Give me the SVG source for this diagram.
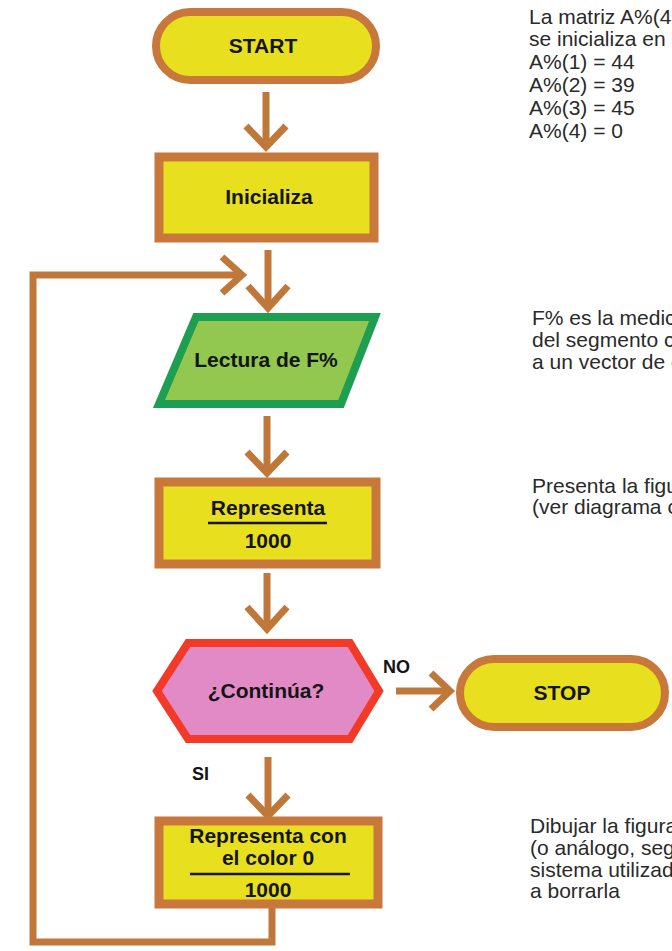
<svg xmlns="http://www.w3.org/2000/svg" width="672" height="951" viewBox="0 0 672 951">
<defs>
<style>
.bg{fill:#ffffff}
.term{fill:#e8e01e;stroke:#c8783a;stroke-width:8}
.proc{fill:#e8e01e;stroke:#c8783a;stroke-width:9}
.io{fill:#92c850;stroke:#1e9e50;stroke-width:8;stroke-linejoin:miter}
.dec{fill:#e28ac6;stroke:#f23a26;stroke-width:8;stroke-linejoin:miter}
.conn{fill:none;stroke:#c0783a;stroke-width:7;stroke-linejoin:miter;stroke-linecap:butt}
.lbl{font-family:"Liberation Sans",Arial,Helvetica,sans-serif;font-weight:bold;font-size:21px;fill:#141414;text-anchor:middle}
.tag{font-family:"Liberation Sans",Arial,Helvetica,sans-serif;font-weight:bold;font-size:18px;fill:#141414}
.note{font-family:"Liberation Sans",Arial,Helvetica,sans-serif;font-size:21px;fill:#2a2a2a}
.rule{stroke:#141414;stroke-width:2.5}
</style>
</defs>
<rect class="bg" x="0" y="0" width="672" height="951"/>

<g id="connectors">
  <path class="conn" d="M266,92 V146"/>
  <polyline class="conn" points="246,126 266,147 286,126"/>
  <path class="conn" d="M268,250 V306"/>
  <polyline class="conn" points="248,286 268,308 288,286"/>
  <path class="conn" d="M272,906 V942 H33 V275 H240"/>
  <polyline class="conn" points="222,257 242,275 222,293"/>
  <path class="conn" d="M267,416 V471"/>
  <polyline class="conn" points="247,452 267,473 287,452"/>
  <path class="conn" d="M267,573 V628"/>
  <polyline class="conn" points="247,607 267,629 287,607"/>
  <path class="conn" d="M396,691 H447"/>
  <polyline class="conn" points="431,673 450,691 431,709"/>
  <path class="conn" d="M268,757 V814"/>
  <polyline class="conn" points="248,795 268,816 288,795"/>
  <text class="tag" x="383" y="673">NO</text>
  <text class="tag" x="192" y="780">SI</text>
</g>

<g id="start">
  <rect class="term" x="156" y="12" width="220" height="68" rx="34"/>
  <text class="lbl" x="263" y="53">START</text>
</g>

<g id="inicializa">
  <rect class="proc" x="159" y="157" width="215" height="81"/>
  <text class="lbl" x="269" y="204">Inicializa</text>
</g>

<g id="lectura">
  <polygon class="io" points="196,317 375,317 341,404 159,404"/>
  <text class="lbl" x="266" y="367">Lectura de F%</text>
</g>

<g id="representa">
  <rect class="proc" x="159" y="482" width="217" height="82"/>
  <text class="lbl" x="268" y="515">Representa</text>
  <line class="rule" x1="208" y1="523" x2="327" y2="523"/>
  <text class="lbl" x="268" y="548">1000</text>
</g>

<g id="continua">
  <polygon class="dec" points="157,691 188,643 350,643 379,691 350,739 188,739"/>
  <text class="lbl" x="266" y="698">¿Continúa?</text>
</g>

<g id="stop">
  <rect class="term" x="460" y="659" width="205" height="68" rx="34"/>
  <text class="lbl" x="562" y="700">STOP</text>
</g>

<g id="representa-color">
  <rect class="proc" x="159" y="821" width="219" height="83"/>
  <text class="lbl" x="268" y="843">Representa con</text>
  <text class="lbl" x="268" y="865">el color 0</text>
  <line class="rule" x1="190" y1="874" x2="350" y2="874"/>
  <text class="lbl" x="268" y="897">1000</text>
</g>

<g id="notes">
  <text class="note" x="529" y="24">La matriz A%(4</text>
  <text class="note" x="529" y="46">se inicializa en l</text>
  <text class="note" x="529" y="69">A%(1) = 44</text>
  <text class="note" x="529" y="92">A%(2) = 39</text>
  <text class="note" x="529" y="115">A%(3) = 45</text>
  <text class="note" x="529" y="138">A%(4) = 0</text>
  <text class="note" x="532" y="325">F% es la medic</text>
  <text class="note" x="532" y="347">del segmento c</text>
  <text class="note" x="532" y="369">a un vector de c</text>
  <text class="note" x="532" y="493">Presenta la figu</text>
  <text class="note" x="532" y="514">(ver diagrama c</text>
  <text class="note" x="530" y="833">Dibujar la figura</text>
  <text class="note" x="530" y="855">(o análogo, seg</text>
  <text class="note" x="530" y="877">sistema utilizad</text>
  <text class="note" x="530" y="898">a borrarla</text>
</g>
</svg>
